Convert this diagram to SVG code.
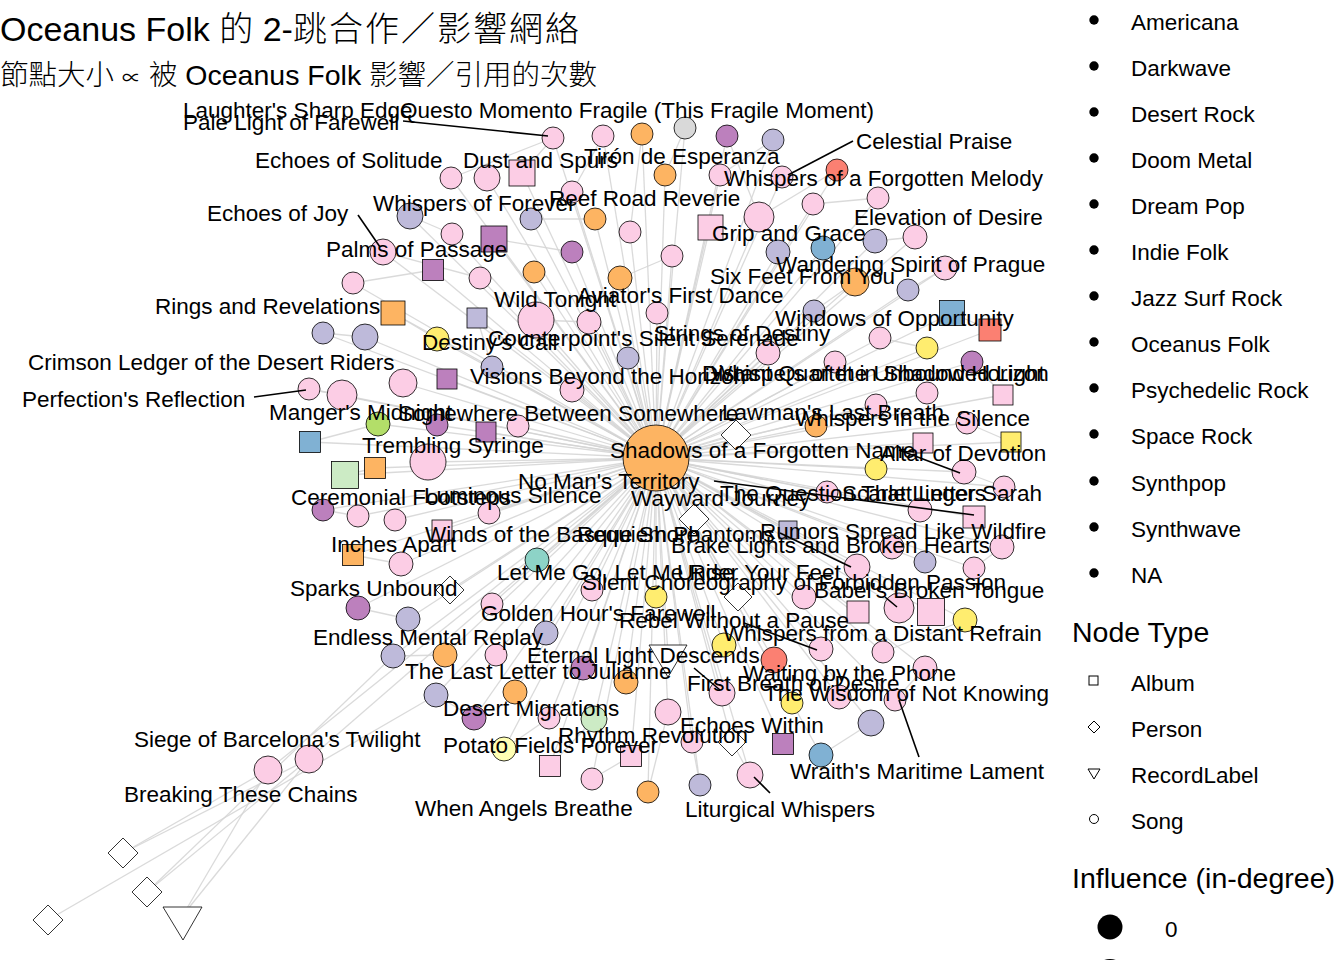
<svg xmlns="http://www.w3.org/2000/svg" width="1344" height="960" viewBox="0 0 1344 960">
<style>
.e{stroke:#d3d3d3;stroke-width:1.3;opacity:0.85;fill:none}
.n{stroke:#000;stroke-width:0.8}
.pk{fill:#FCCDE5}.or{fill:#FDB462}.lv{fill:#BEBADA}.pu{fill:#BC80BD}.gy{fill:#D9D9D9}.rd{fill:#FB8072}.bl{fill:#80B1D3}.ye{fill:#FFED6F}.gr{fill:#B3DE69}.lg{fill:#CCEBC5}.tl{fill:#8DD3C7}.ly{fill:#FFFFB3}.wh{fill:#fff}
.lbl{font-family:"Liberation Sans",Arial,sans-serif;font-size:22.5px;fill:#000}
.seg{stroke:#000;stroke-width:1.6}
.title{font-family:"Liberation Sans","Noto Sans CJK TC",sans-serif;font-size:34px;fill:#000}
.sub{font-family:"Liberation Sans","Noto Sans CJK TC",sans-serif;font-size:28.5px;fill:#000}
.cjk{font-weight:300}
.lt{font-family:"Liberation Sans",Arial,sans-serif;font-size:28.5px;fill:#000}
</style>
<rect width="1344" height="960" fill="#fff"/>
<g id="connectors">
<line class="e" x1="656" y1="458" x2="553" y2="138"/><line class="e" x1="656" y1="458" x2="603" y2="136"/><line class="e" x1="656" y1="458" x2="642" y2="134"/><line class="e" x1="656" y1="458" x2="685" y2="128"/><line class="e" x1="656" y1="458" x2="727" y2="136"/><line class="e" x1="656" y1="458" x2="773" y2="140"/><line class="e" x1="656" y1="458" x2="451" y2="178"/><line class="e" x1="656" y1="458" x2="487" y2="178"/><line class="e" x1="656" y1="458" x2="522" y2="173"/><line class="e" x1="656" y1="458" x2="665" y2="175"/><line class="e" x1="656" y1="458" x2="720" y2="175"/><line class="e" x1="656" y1="458" x2="782" y2="177"/><line class="e" x1="656" y1="458" x2="837" y2="170"/><line class="e" x1="656" y1="458" x2="572" y2="192"/><line class="e" x1="656" y1="458" x2="410" y2="216"/><line class="e" x1="656" y1="458" x2="531" y2="219"/><line class="e" x1="656" y1="458" x2="595" y2="219"/><line class="e" x1="656" y1="458" x2="630" y2="232"/><line class="e" x1="656" y1="458" x2="813" y2="204"/><line class="e" x1="656" y1="458" x2="878" y2="198"/><line class="e" x1="656" y1="458" x2="759" y2="217"/><line class="e" x1="656" y1="458" x2="710" y2="227"/><line class="e" x1="656" y1="458" x2="875" y2="241"/><line class="e" x1="656" y1="458" x2="823" y2="248"/><line class="e" x1="656" y1="458" x2="778" y2="252"/><line class="e" x1="656" y1="458" x2="915" y2="237"/><line class="e" x1="656" y1="458" x2="672" y2="256"/><line class="e" x1="656" y1="458" x2="620" y2="278"/><line class="e" x1="656" y1="458" x2="945" y2="268"/><line class="e" x1="656" y1="458" x2="855" y2="282"/><line class="e" x1="656" y1="458" x2="908" y2="290"/><line class="e" x1="656" y1="458" x2="452" y2="234"/><line class="e" x1="656" y1="458" x2="494" y2="239"/><line class="e" x1="656" y1="458" x2="383" y2="252"/><line class="e" x1="656" y1="458" x2="433" y2="270"/><line class="e" x1="656" y1="458" x2="480" y2="278"/><line class="e" x1="656" y1="458" x2="572" y2="252"/><line class="e" x1="656" y1="458" x2="534" y2="272"/><line class="e" x1="656" y1="458" x2="353" y2="283"/><line class="e" x1="656" y1="458" x2="393" y2="313"/><line class="e" x1="656" y1="458" x2="323" y2="333"/><line class="e" x1="656" y1="458" x2="365" y2="337"/><line class="e" x1="656" y1="458" x2="437" y2="339"/><line class="e" x1="656" y1="458" x2="477" y2="318"/><line class="e" x1="656" y1="458" x2="536" y2="320"/><line class="e" x1="656" y1="458" x2="589" y2="322"/><line class="e" x1="656" y1="458" x2="657" y2="313"/><line class="e" x1="656" y1="458" x2="814" y2="311"/><line class="e" x1="656" y1="458" x2="952" y2="313"/><line class="e" x1="656" y1="458" x2="990" y2="330"/><line class="e" x1="656" y1="458" x2="880" y2="338"/><line class="e" x1="656" y1="458" x2="927" y2="348"/><line class="e" x1="656" y1="458" x2="768" y2="353"/><line class="e" x1="656" y1="458" x2="628" y2="358"/><line class="e" x1="656" y1="458" x2="492" y2="367"/><line class="e" x1="656" y1="458" x2="447" y2="379"/><line class="e" x1="656" y1="458" x2="403" y2="383"/><line class="e" x1="656" y1="458" x2="309" y2="389"/><line class="e" x1="656" y1="458" x2="342" y2="395"/><line class="e" x1="656" y1="458" x2="572" y2="390"/><line class="e" x1="656" y1="458" x2="972" y2="362"/><line class="e" x1="656" y1="458" x2="835" y2="362"/><line class="e" x1="656" y1="458" x2="927" y2="393"/><line class="e" x1="656" y1="458" x2="876" y2="405"/><line class="e" x1="656" y1="458" x2="1003" y2="395"/><line class="e" x1="656" y1="458" x2="816" y2="426"/><line class="e" x1="656" y1="458" x2="736" y2="435"/><line class="e" x1="656" y1="458" x2="486" y2="432"/><line class="e" x1="656" y1="458" x2="518" y2="426"/><line class="e" x1="656" y1="458" x2="378" y2="424"/><line class="e" x1="656" y1="458" x2="310" y2="442"/><line class="e" x1="656" y1="458" x2="437" y2="425"/><line class="e" x1="656" y1="458" x2="967" y2="423"/><line class="e" x1="656" y1="458" x2="1011" y2="442"/><line class="e" x1="656" y1="458" x2="923" y2="443"/><line class="e" x1="656" y1="458" x2="345" y2="475"/><line class="e" x1="656" y1="458" x2="375" y2="468"/><line class="e" x1="656" y1="458" x2="428" y2="462"/><line class="e" x1="656" y1="458" x2="876" y2="469"/><line class="e" x1="656" y1="458" x2="964" y2="472"/><line class="e" x1="656" y1="458" x2="323" y2="510"/><line class="e" x1="656" y1="458" x2="358" y2="516"/><line class="e" x1="656" y1="458" x2="395" y2="520"/><line class="e" x1="656" y1="458" x2="442" y2="530"/><line class="e" x1="656" y1="458" x2="489" y2="513"/><line class="e" x1="656" y1="458" x2="694" y2="519"/><line class="e" x1="656" y1="458" x2="788" y2="530"/><line class="e" x1="656" y1="458" x2="827" y2="492"/><line class="e" x1="656" y1="458" x2="920" y2="510"/><line class="e" x1="656" y1="458" x2="1004" y2="487"/><line class="e" x1="656" y1="458" x2="974" y2="517"/><line class="e" x1="656" y1="458" x2="1002" y2="547"/><line class="e" x1="656" y1="458" x2="892" y2="547"/><line class="e" x1="656" y1="458" x2="857" y2="567"/><line class="e" x1="656" y1="458" x2="925" y2="562"/><line class="e" x1="656" y1="458" x2="974" y2="568"/><line class="e" x1="656" y1="458" x2="353" y2="555"/><line class="e" x1="656" y1="458" x2="401" y2="564"/><line class="e" x1="656" y1="458" x2="537" y2="560"/><line class="e" x1="656" y1="458" x2="592" y2="590"/><line class="e" x1="656" y1="458" x2="656" y2="597"/><line class="e" x1="656" y1="458" x2="450" y2="590"/><line class="e" x1="656" y1="458" x2="738" y2="597"/><line class="e" x1="656" y1="458" x2="804" y2="597"/><line class="e" x1="656" y1="458" x2="899" y2="608"/><line class="e" x1="656" y1="458" x2="858" y2="612"/><line class="e" x1="656" y1="458" x2="931" y2="612"/><line class="e" x1="656" y1="458" x2="965" y2="620"/><line class="e" x1="656" y1="458" x2="358" y2="608"/><line class="e" x1="656" y1="458" x2="408" y2="619"/><line class="e" x1="656" y1="458" x2="492" y2="604"/><line class="e" x1="656" y1="458" x2="546" y2="633"/><line class="e" x1="656" y1="458" x2="821" y2="649"/><line class="e" x1="656" y1="458" x2="724" y2="645"/><line class="e" x1="656" y1="458" x2="774" y2="660"/><line class="e" x1="656" y1="458" x2="883" y2="652"/><line class="e" x1="656" y1="458" x2="393" y2="656"/><line class="e" x1="656" y1="458" x2="445" y2="655"/><line class="e" x1="656" y1="458" x2="496" y2="655"/><line class="e" x1="656" y1="458" x2="583" y2="668"/><line class="e" x1="656" y1="458" x2="626" y2="682"/><line class="e" x1="656" y1="458" x2="668" y2="655"/><line class="e" x1="656" y1="458" x2="436" y2="695"/><line class="e" x1="656" y1="458" x2="515" y2="692"/><line class="e" x1="656" y1="458" x2="474" y2="718"/><line class="e" x1="656" y1="458" x2="549" y2="718"/><line class="e" x1="656" y1="458" x2="594" y2="719"/><line class="e" x1="656" y1="458" x2="668" y2="712"/><line class="e" x1="656" y1="458" x2="722" y2="693"/><line class="e" x1="656" y1="458" x2="792" y2="703"/><line class="e" x1="656" y1="458" x2="839" y2="697"/><line class="e" x1="656" y1="458" x2="895" y2="700"/><line class="e" x1="656" y1="458" x2="925" y2="668"/><line class="e" x1="656" y1="458" x2="871" y2="723"/><line class="e" x1="656" y1="458" x2="504" y2="749"/><line class="e" x1="656" y1="458" x2="550" y2="766"/><line class="e" x1="656" y1="458" x2="631" y2="756"/><line class="e" x1="656" y1="458" x2="692" y2="742"/><line class="e" x1="656" y1="458" x2="732" y2="742"/><line class="e" x1="656" y1="458" x2="783" y2="744"/><line class="e" x1="656" y1="458" x2="821" y2="755"/><line class="e" x1="656" y1="458" x2="592" y2="779"/><line class="e" x1="656" y1="458" x2="648" y2="792"/><line class="e" x1="656" y1="458" x2="700" y2="785"/><line class="e" x1="656" y1="458" x2="750" y2="775"/><line class="e" x1="656" y1="458" x2="309" y2="759"/><line class="e" x1="656" y1="458" x2="268" y2="770"/>
<line class="e" x1="553" y1="138" x2="451" y2="178"/><line class="e" x1="553" y1="138" x2="522" y2="173"/><line class="e" x1="603" y1="136" x2="572" y2="192"/><line class="e" x1="642" y1="134" x2="630" y2="232"/><line class="e" x1="685" y1="128" x2="665" y2="175"/><line class="e" x1="727" y1="136" x2="759" y2="217"/><line class="e" x1="773" y1="140" x2="720" y2="175"/><line class="e" x1="837" y1="170" x2="759" y2="217"/><line class="e" x1="878" y1="198" x2="813" y2="204"/><line class="e" x1="915" y1="237" x2="875" y2="241"/><line class="e" x1="945" y1="268" x2="908" y2="290"/><line class="e" x1="410" y1="216" x2="452" y2="234"/><line class="e" x1="383" y1="252" x2="480" y2="278"/><line class="e" x1="353" y1="283" x2="433" y2="270"/><line class="e" x1="323" y1="333" x2="365" y2="337"/><line class="e" x1="393" y1="313" x2="437" y2="339"/><line class="e" x1="309" y1="389" x2="342" y2="395"/><line class="e" x1="310" y1="442" x2="378" y2="424"/><line class="e" x1="345" y1="475" x2="375" y2="468"/><line class="e" x1="323" y1="510" x2="358" y2="516"/><line class="e" x1="353" y1="555" x2="401" y2="564"/><line class="e" x1="358" y1="608" x2="408" y2="619"/><line class="e" x1="393" y1="656" x2="445" y2="655"/><line class="e" x1="436" y1="695" x2="474" y2="718"/><line class="e" x1="504" y1="749" x2="549" y2="718"/><line class="e" x1="550" y1="766" x2="594" y2="719"/><line class="e" x1="592" y1="779" x2="631" y2="756"/><line class="e" x1="648" y1="792" x2="668" y2="712"/><line class="e" x1="700" y1="785" x2="692" y2="742"/><line class="e" x1="750" y1="775" x2="732" y2="742"/><line class="e" x1="821" y1="755" x2="871" y2="723"/><line class="e" x1="895" y1="700" x2="925" y2="668"/><line class="e" x1="883" y1="652" x2="965" y2="620"/><line class="e" x1="974" y1="568" x2="1002" y2="547"/><line class="e" x1="964" y1="472" x2="1004" y2="487"/><line class="e" x1="1011" y1="442" x2="967" y2="423"/><line class="e" x1="1003" y1="395" x2="972" y2="362"/><line class="e" x1="990" y1="330" x2="952" y2="313"/><line class="e" x1="927" y1="348" x2="880" y2="338"/><line class="e" x1="855" y1="282" x2="814" y2="311"/><line class="e" x1="620" y1="278" x2="672" y2="256"/><line class="e" x1="531" y1="219" x2="595" y2="219"/><line class="e" x1="494" y1="239" x2="572" y2="252"/><line class="e" x1="536" y1="320" x2="589" y2="322"/><line class="e" x1="477" y1="318" x2="492" y2="367"/>
<line class="e" x1="48" y1="920" x2="436" y2="695"/><line class="e" x1="123" y1="853" x2="268" y2="770"/><line class="e" x1="123" y1="853" x2="309" y2="759"/><line class="e" x1="147" y1="892" x2="309" y2="759"/><line class="e" x1="147" y1="892" x2="393" y2="656"/><line class="e" x1="183" y1="915" x2="268" y2="770"/><line class="e" x1="183" y1="915" x2="309" y2="759"/>
</g>
<g id="nodes">
<g id="n1"><circle class="n pk" cx="553" cy="138" r="11"/></g>
<g id="n2"><circle class="n pk" cx="603" cy="136" r="11"/></g>
<g id="n3"><circle class="n or" cx="642" cy="134" r="11"/></g>
<g id="n4"><circle class="n gy" cx="685" cy="128" r="11"/></g>
<g id="n5"><circle class="n pu" cx="727" cy="136" r="11"/></g>
<g id="n6"><circle class="n lv" cx="773" cy="140" r="11"/></g>
<g id="n7"><circle class="n pk" cx="451" cy="178" r="11"/></g>
<g id="n8"><circle class="n pk" cx="487" cy="178" r="13"/></g>
<g id="n9"><rect class="n pk" x="509" y="160" width="26" height="26"/></g>
<g id="n10"><circle class="n or" cx="665" cy="175" r="11"/></g>
<g id="n11"><circle class="n pk" cx="720" cy="175" r="11"/></g>
<g id="n12"><circle class="n pk" cx="782" cy="177" r="11"/></g>
<g id="n13"><circle class="n rd" cx="837" cy="170" r="11"/></g>
<g id="n14"><circle class="n pk" cx="572" cy="192" r="11"/></g>
<g id="n15"><circle class="n lv" cx="410" cy="216" r="13"/></g>
<g id="n16"><circle class="n lv" cx="531" cy="219" r="11"/></g>
<g id="n17"><circle class="n or" cx="595" cy="219" r="11"/></g>
<g id="n18"><circle class="n pk" cx="630" cy="232" r="11"/></g>
<g id="n19"><circle class="n pk" cx="813" cy="204" r="11"/></g>
<g id="n20"><circle class="n pk" cx="878" cy="198" r="11"/></g>
<g id="n21"><circle class="n pk" cx="759" cy="217" r="15"/></g>
<g id="n22"><rect class="n pk" x="698" y="215" width="25" height="25"/></g>
<g id="n23"><circle class="n lv" cx="875" cy="241" r="12"/></g>
<g id="n24"><circle class="n bl" cx="823" cy="248" r="12"/></g>
<g id="n25"><circle class="n lv" cx="778" cy="252" r="12"/></g>
<g id="n26"><circle class="n pk" cx="915" cy="237" r="12"/></g>
<g id="n27"><circle class="n pk" cx="672" cy="256" r="11"/></g>
<g id="n28"><circle class="n or" cx="620" cy="278" r="12"/></g>
<g id="n29"><circle class="n pk" cx="945" cy="268" r="12"/></g>
<g id="n30"><circle class="n or" cx="855" cy="282" r="14"/></g>
<g id="n31"><circle class="n lv" cx="908" cy="290" r="11"/></g>
<g id="n32"><circle class="n pk" cx="452" cy="234" r="11"/></g>
<g id="n33"><rect class="n pu" x="481" y="226" width="26" height="26"/></g>
<g id="n34"><circle class="n pk" cx="383" cy="252" r="13"/></g>
<g id="n35"><rect class="n pu" x="422.5" y="259.5" width="21" height="21"/></g>
<g id="n36"><circle class="n pk" cx="480" cy="278" r="11"/></g>
<g id="n37"><circle class="n pu" cx="572" cy="252" r="11"/></g>
<g id="n38"><circle class="n or" cx="534" cy="272" r="11"/></g>
<g id="n39"><circle class="n pk" cx="353" cy="283" r="11"/></g>
<g id="n40"><rect class="n or" x="381" y="301" width="24" height="24"/></g>
<g id="n41"><circle class="n lv" cx="323" cy="333" r="11"/></g>
<g id="n42"><circle class="n lv" cx="365" cy="337" r="13"/></g>
<g id="n43"><circle class="n ye" cx="437" cy="339" r="12"/></g>
<g id="n44"><rect class="n lv" x="467" y="308" width="20" height="20"/></g>
<g id="n45"><circle class="n pk" cx="536" cy="320" r="18"/></g>
<g id="n46"><circle class="n pk" cx="589" cy="322" r="12"/></g>
<g id="n47"><circle class="n pk" cx="657" cy="313" r="11"/></g>
<g id="n48"><circle class="n lv" cx="814" cy="311" r="11"/></g>
<g id="n49"><rect class="n bl" x="939.5" y="300.5" width="25" height="25"/></g>
<g id="n50"><rect class="n rd" x="979" y="319" width="22" height="22"/></g>
<g id="n51"><circle class="n pk" cx="880" cy="338" r="11"/></g>
<g id="n52"><circle class="n ye" cx="927" cy="348" r="11"/></g>
<g id="n53"><circle class="n pk" cx="768" cy="353" r="12"/></g>
<g id="n54"><circle class="n lv" cx="628" cy="358" r="11"/></g>
<g id="n55"><circle class="n lv" cx="492" cy="367" r="11"/></g>
<g id="n56"><rect class="n pu" x="437" y="369" width="20" height="20"/></g>
<g id="n57"><circle class="n pk" cx="403" cy="383" r="14"/></g>
<g id="n58"><circle class="n pk" cx="309" cy="389" r="11"/></g>
<g id="n59"><circle class="n pk" cx="342" cy="395" r="15"/></g>
<g id="n60"><circle class="n pk" cx="572" cy="390" r="12"/></g>
<g id="n61"><circle class="n pu" cx="972" cy="362" r="11"/></g>
<g id="n62"><circle class="n pk" cx="835" cy="362" r="11"/></g>
<g id="n63"><circle class="n pk" cx="927" cy="393" r="11"/></g>
<g id="n64"><circle class="n pk" cx="876" cy="405" r="11"/></g>
<g id="n65"><rect class="n pk" x="993" y="385" width="20" height="20"/></g>
<g id="n66"><circle class="n or" cx="816" cy="426" r="11"/></g>
<g id="n67"><polygon class="n wh" points="736,420 751,435 736,450 721,435"/></g>
<g id="n68"><rect class="n pu" x="476" y="422" width="20" height="20"/></g>
<g id="n69"><circle class="n pk" cx="518" cy="426" r="11"/></g>
<g id="n70"><circle class="n gr" cx="378" cy="424" r="12"/></g>
<g id="n71"><rect class="n bl" x="299.5" y="431.5" width="21" height="21"/></g>
<g id="n72"><circle class="n pu" cx="437" cy="425" r="11"/></g>
<g id="n73"><circle class="n pk" cx="967" cy="423" r="11"/></g>
<g id="n74"><rect class="n ye" x="1001" y="432" width="20" height="20"/></g>
<g id="n75"><rect class="n pk" x="913" y="433" width="20" height="20"/></g>
<g id="n76"><rect class="n lg" x="331.5" y="461.5" width="27" height="27"/></g>
<g id="n77"><rect class="n or" x="364.5" y="457.5" width="21" height="21"/></g>
<g id="n78"><circle class="n pk" cx="428" cy="462" r="18"/></g>
<g id="hub"><circle class="n or" cx="656" cy="458" r="33"/></g>
<g id="n80"><circle class="n ye" cx="876" cy="469" r="11"/></g>
<g id="n81"><circle class="n pk" cx="964" cy="472" r="12"/></g>
<g id="n82"><circle class="n pu" cx="323" cy="510" r="11"/></g>
<g id="n83"><circle class="n pk" cx="358" cy="516" r="11"/></g>
<g id="n84"><circle class="n pk" cx="395" cy="520" r="11"/></g>
<g id="n85"><rect class="n pk" x="432" y="520" width="20" height="20"/></g>
<g id="n86"><circle class="n pk" cx="489" cy="513" r="11"/></g>
<g id="n87"><polygon class="n wh" points="694,504 709,519 694,534 679,519"/></g>
<g id="n88"><rect class="n lv" x="779" y="521" width="18" height="18"/></g>
<g id="n89"><circle class="n pk" cx="827" cy="492" r="11"/></g>
<g id="n90"><circle class="n pk" cx="920" cy="510" r="12"/></g>
<g id="n91"><circle class="n pk" cx="1004" cy="487" r="11"/></g>
<g id="n92"><rect class="n pk" x="963" y="506" width="22" height="22"/></g>
<g id="n93"><circle class="n pk" cx="1002" cy="547" r="12"/></g>
<g id="n94"><circle class="n pk" cx="892" cy="547" r="12"/></g>
<g id="n95"><circle class="n pk" cx="857" cy="567" r="13"/></g>
<g id="n96"><circle class="n lv" cx="925" cy="562" r="11"/></g>
<g id="n97"><circle class="n pk" cx="974" cy="568" r="11"/></g>
<g id="n98"><rect class="n or" x="342.5" y="544.5" width="21" height="21"/></g>
<g id="n99"><circle class="n pk" cx="401" cy="564" r="12"/></g>
<g id="n100"><circle class="n tl" cx="537" cy="560" r="12"/></g>
<g id="n101"><circle class="n pk" cx="592" cy="590" r="11"/></g>
<g id="n102"><circle class="n ye" cx="656" cy="597" r="11"/></g>
<g id="n103"><polygon class="n wh" points="450,576 464,590 450,604 436,590"/></g>
<g id="n104"><polygon class="n wh" points="738,583 752,597 738,611 724,597"/></g>
<g id="n105"><circle class="n pk" cx="804" cy="597" r="12"/></g>
<g id="n106"><circle class="n pk" cx="899" cy="608" r="15"/></g>
<g id="n107"><rect class="n pk" x="847" y="601" width="22" height="22"/></g>
<g id="n108"><rect class="n pk" x="917.5" y="598.5" width="27" height="27"/></g>
<g id="n109"><circle class="n ye" cx="965" cy="620" r="12"/></g>
<g id="n110"><circle class="n pu" cx="358" cy="608" r="12"/></g>
<g id="n111"><circle class="n lv" cx="408" cy="619" r="12"/></g>
<g id="n112"><circle class="n pk" cx="492" cy="604" r="11"/></g>
<g id="n113"><circle class="n lv" cx="546" cy="633" r="12"/></g>
<g id="n114"><circle class="n pk" cx="821" cy="649" r="12"/></g>
<g id="n115"><circle class="n ye" cx="724" cy="645" r="12"/></g>
<g id="n116"><circle class="n rd" cx="774" cy="660" r="13"/></g>
<g id="n117"><circle class="n pk" cx="883" cy="652" r="11"/></g>
<g id="n118"><circle class="n lv" cx="393" cy="656" r="12"/></g>
<g id="n119"><circle class="n or" cx="445" cy="655" r="12"/></g>
<g id="n120"><circle class="n pk" cx="496" cy="655" r="11"/></g>
<g id="n121"><circle class="n pu" cx="583" cy="668" r="12"/></g>
<g id="n122"><circle class="n or" cx="626" cy="682" r="12"/></g>
<g id="n123"><polygon class="n wh" points="649,645 687,645 668,677"/></g>
<g id="n124"><circle class="n lv" cx="436" cy="695" r="12"/></g>
<g id="n125"><circle class="n or" cx="515" cy="692" r="12"/></g>
<g id="n126"><circle class="n pu" cx="474" cy="718" r="12"/></g>
<g id="n127"><circle class="n pk" cx="549" cy="718" r="11"/></g>
<g id="n128"><circle class="n lg" cx="594" cy="719" r="13"/></g>
<g id="n129"><circle class="n pk" cx="668" cy="712" r="13"/></g>
<g id="n130"><circle class="n pk" cx="722" cy="693" r="13"/></g>
<g id="n131"><circle class="n ye" cx="792" cy="703" r="11"/></g>
<g id="n132"><circle class="n pk" cx="839" cy="697" r="12"/></g>
<g id="n133"><circle class="n pk" cx="895" cy="700" r="11"/></g>
<g id="n134"><circle class="n pk" cx="925" cy="668" r="12"/></g>
<g id="n135"><circle class="n lv" cx="871" cy="723" r="13"/></g>
<g id="n136"><circle class="n ly" cx="504" cy="749" r="12"/></g>
<g id="n137"><rect class="n pk" x="539.5" y="755.5" width="21" height="21"/></g>
<g id="n138"><rect class="n pk" x="620.5" y="745.5" width="21" height="21"/></g>
<g id="n139"><circle class="n pk" cx="692" cy="742" r="11"/></g>
<g id="n140"><polygon class="n wh" points="732,728 746,742 732,756 718,742"/></g>
<g id="n141"><rect class="n pu" x="772.5" y="733.5" width="21" height="21"/></g>
<g id="n142"><circle class="n bl" cx="821" cy="755" r="12"/></g>
<g id="n143"><circle class="n pk" cx="592" cy="779" r="11"/></g>
<g id="n144"><circle class="n or" cx="648" cy="792" r="11"/></g>
<g id="n145"><circle class="n lv" cx="700" cy="785" r="11"/></g>
<g id="n146"><circle class="n pk" cx="750" cy="775" r="13"/></g>
<g id="n147"><circle class="n pk" cx="309" cy="759" r="14"/></g>
<g id="n148"><circle class="n pk" cx="268" cy="770" r="14"/></g>
<g id="n149"><polygon class="n wh" points="123,838 138,853 123,868 108,853"/></g>
<g id="n150"><polygon class="n wh" points="147,877 162,892 147,907 132,892"/></g>
<g id="n151"><polygon class="n wh" points="48,905 63,920 48,935 33,920"/></g>
<g id="n152"><polygon class="n wh" points="163,907 202,907 183,940"/></g>
</g>
<g id="leaders">
<line class="seg" x1="403" y1="121" x2="548" y2="136"/>
<line class="seg" x1="853" y1="141" x2="788" y2="175"/>
<line class="seg" x1="358" y1="215" x2="380" y2="247"/>
<line class="seg" x1="254" y1="397" x2="306" y2="390"/>
<line class="seg" x1="899" y1="450" x2="960" y2="473"/>
<line class="seg" x1="714" y1="481" x2="974" y2="515"/>
<line class="seg" x1="780" y1="533" x2="851" y2="567"/>
<line class="seg" x1="885" y1="597" x2="897" y2="607"/>
<line class="seg" x1="744" y1="623" x2="817" y2="650"/>
<line class="seg" x1="694" y1="668" x2="720" y2="690"/>
<line class="seg" x1="754" y1="777" x2="770" y2="793"/>
<line class="seg" x1="899" y1="700" x2="919" y2="757"/>
</g>
<g id="labels" class="lbl">
<text x="183" y="118">Laughter's Sharp Edge</text>
<text x="400" y="118">Questo Momento Fragile (This Fragile Moment)</text>
<text x="183" y="130">Pale Light of Farewell</text>
<text x="856" y="149">Celestial Praise</text>
<text x="255" y="168">Echoes of Solitude</text>
<text x="463" y="168">Dust and Spurs</text>
<text x="584" y="164">Tirón de Esperanza</text>
<text x="724" y="186">Whispers of a Forgotten Melody</text>
<text x="207" y="221">Echoes of Joy</text>
<text x="373" y="211">Whispers of Forever</text>
<text x="549" y="206">Reef Road Reverie</text>
<text x="854" y="225">Elevation of Desire</text>
<text x="712" y="241">Grip and Grace</text>
<text x="326" y="257">Palms of Passage</text>
<text x="776" y="272">Wandering Spirit of Prague</text>
<text x="710" y="284">Six Feet From You</text>
<text x="155" y="314">Rings and Revelations</text>
<text x="494" y="307">Wild Tonight</text>
<text x="577" y="303">Aviator's First Dance</text>
<text x="775" y="326">Windows of Opportunity</text>
<text x="422" y="350">Destiny's Call</text>
<text x="488" y="346">Counterpoint's Silent Serenade</text>
<text x="654" y="341">Strings of Destiny</text>
<text x="28" y="370">Crimson Ledger of the Desert Riders</text>
<text x="470" y="384">Visions Beyond the Horizon</text>
<text x="702" y="381">Distant Quartet in Shadowed Light</text>
<text x="711" y="381">Whispers of the Unbound Horizon</text>
<text x="22" y="407">Perfection's Reflection</text>
<text x="269" y="420">Manger's Midnight</text>
<text x="398" y="421">Somewhere Between Somewhere</text>
<text x="722" y="420">Lawman's Last Breath</text>
<text x="795" y="426">Whispers in the Silence</text>
<text x="362" y="453">Trembling Syringe</text>
<text x="610" y="458">Shadows of a Forgotten Name</text>
<text x="880" y="461">Altar of Devotion</text>
<text x="518" y="489">No Man's Territory</text>
<text x="291" y="505">Ceremonial Footsteps</text>
<text x="424" y="503">Luminous Silence</text>
<text x="631" y="506">Wayward Journey</text>
<text x="720" y="501">The Question That Lingers</text>
<text x="842" y="501">Scarlet Letter Sarah</text>
<text x="425" y="542">Winds of the Basque Shore</text>
<text x="577" y="542">Requiem Phantoms</text>
<text x="760" y="539">Rumors Spread Like Wildfire</text>
<text x="331" y="552">Inches Apart</text>
<text x="671" y="553">Brake Lights and Broken Hearts</text>
<text x="497" y="580">Let Me Go, Let Me Rise</text>
<text x="677" y="580">Under Your Feet</text>
<text x="582" y="590">Silent Choreography of Forbidden Passion</text>
<text x="290" y="596">Sparks Unbound</text>
<text x="814" y="598">Babel's Broken Tongue</text>
<text x="481" y="621">Golden Hour's Farewell</text>
<text x="619" y="628">Rebel Without a Pause</text>
<text x="723" y="641">Whispers from a Distant Refrain</text>
<text x="313" y="645">Endless Mental Replay</text>
<text x="527" y="663">Eternal Light Descends</text>
<text x="405" y="679">The Last Letter to Julianne</text>
<text x="743" y="681">Waiting by the Phone</text>
<text x="687" y="691">First Breath of Desire</text>
<text x="764" y="701">The Wisdom of Not Knowing</text>
<text x="443" y="716">Desert Migrations</text>
<text x="680" y="733">Echoes Within</text>
<text x="558" y="743">Rhythm Revolution</text>
<text x="134" y="747">Siege of Barcelona's Twilight</text>
<text x="443" y="753">Potato Fields Forever</text>
<text x="790" y="779">Wraith's Maritime Lament</text>
<text x="124" y="802">Breaking These Chains</text>
<text x="415" y="816">When Angels Breathe</text>
<text x="685" y="817">Liturgical Whispers</text>
</g>
<g id="title">
<text class="title" x="0" y="41">Oceanus Folk <tspan class="cjk">的</tspan> 2-<tspan class="cjk" letter-spacing="2">跳合作／影響網絡</tspan></text>
<text class="sub" x="0" y="85"><tspan class="cjk">節點大小</tspan> <tspan font-size="19">∝</tspan> <tspan class="cjk">被</tspan> Oceanus Folk <tspan class="cjk">影響／引用的次數</tspan></text>
</g>
<g id="legend-genre" class="lbl">
<circle cx="1094" cy="20" r="4.7"/><text x="1131" y="30">Americana</text>
<circle cx="1094" cy="66" r="4.7"/><text x="1131" y="76">Darkwave</text>
<circle cx="1094" cy="112" r="4.7"/><text x="1131" y="122">Desert Rock</text>
<circle cx="1094" cy="158" r="4.7"/><text x="1131" y="168">Doom Metal</text>
<circle cx="1094" cy="204" r="4.7"/><text x="1131" y="214">Dream Pop</text>
<circle cx="1094" cy="250" r="4.7"/><text x="1131" y="260">Indie Folk</text>
<circle cx="1094" cy="296" r="4.7"/><text x="1131" y="306">Jazz Surf Rock</text>
<circle cx="1094" cy="342" r="4.7"/><text x="1131" y="352">Oceanus Folk</text>
<circle cx="1094" cy="388" r="4.7"/><text x="1131" y="398">Psychedelic Rock</text>
<circle cx="1094" cy="434" r="4.7"/><text x="1131" y="444">Space Rock</text>
<circle cx="1094" cy="481" r="4.7"/><text x="1131" y="491">Synthpop</text>
<circle cx="1094" cy="527" r="4.7"/><text x="1131" y="537">Synthwave</text>
<circle cx="1094" cy="573" r="4.7"/><text x="1131" y="583">NA</text>
</g>
<g id="legend-type">
<text class="lt" x="1072" y="642">Node Type</text>
<rect x="1089" y="676" width="9" height="9" fill="none" stroke="#000" stroke-width="1"/>
<polygon points="1094,721 1100,727 1094,733 1088,727" fill="none" stroke="#000" stroke-width="1"/>
<polygon points="1088,769 1100,769 1094,779" fill="none" stroke="#000" stroke-width="1"/>
<circle cx="1094" cy="819" r="4.5" fill="none" stroke="#000" stroke-width="1"/>
<g class="lbl"><text x="1131" y="691">Album</text><text x="1131" y="737">Person</text><text x="1131" y="783">RecordLabel</text><text x="1131" y="829">Song</text></g>
</g>
<g id="legend-size">
<text class="lt" x="1072" y="888">Influence (in-degree)</text>
<circle cx="1110" cy="927" r="12.5" fill="#000"/>
<text class="lbl" x="1165" y="937">0</text>
<circle cx="1110" cy="976" r="17" fill="#000"/>
</g>
</svg>
